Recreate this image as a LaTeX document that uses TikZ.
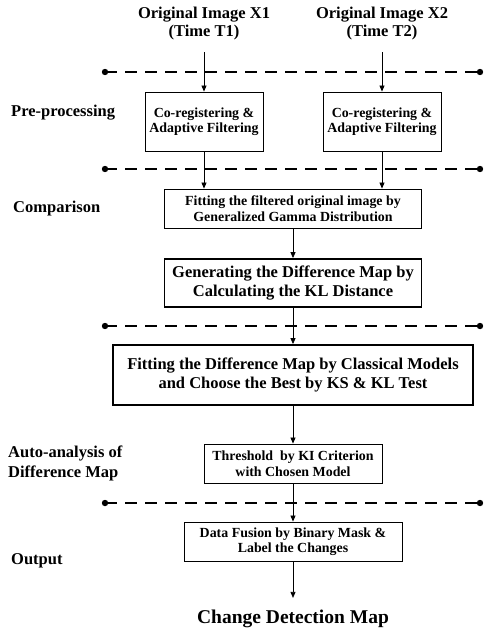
\documentclass[tikz,border=0pt]{standalone}
\usepackage{fontspec}
\setmainfont{Liberation Serif}
\usetikzlibrary{arrows.meta,positioning,calc}

\begin{document}
\begin{tikzpicture}[
  x=1pt, y=-1pt,
  box/.style={draw, line width=0.9pt, align=center, inner sep=0pt, font=\fontsize{13.9}{15.5}\selectfont\bfseries},
  bigbox/.style={draw, line width=1.8pt, align=center, inner sep=0pt, font=\fontsize{16.5}{19.5}\selectfont\bfseries},
  stage/.style={anchor=west, align=left, inner sep=0pt, font=\fontsize{16.5}{20}\selectfont\bfseries},
  title/.style={align=center, inner sep=0pt, font=\fontsize{16.5}{18}\selectfont\bfseries},
  arr/.style={-{Triangle[length=6pt,width=5pt]}, line width=0.8pt},
  sep/.style={dash pattern=on 12pt off 8pt, line width=1.3pt}
]
\useasboundingbox (0,0) rectangle (483,633);

% inputs
\node[title] (img1) at (204,24) {Original Image X1\\(Time T1)};
\node[title] (img2) at (382,24) {Original Image X2\\(Time T2)};

% processing chain
\node[box, minimum width=118pt, minimum height=59pt] (pre1) at (204,121.5) {Co-registering \&\\Adaptive Filtering};
\node[box, minimum width=118pt, minimum height=59pt] (pre2) at (382,121.5) {Co-registering \&\\Adaptive Filtering};
\node[box, minimum width=257pt, minimum height=39pt] (gamma) at (293,208.5) {Fitting the filtered original image by\\Generalized Gamma Distribution};
\node[bigbox, minimum width=257pt, minimum height=48pt] (kl) at (293,283) {Generating the Difference Map by\\Calculating the KL Distance};
\node[bigbox, minimum width=360pt, minimum height=60pt] (fit) at (293,375) {Fitting the Difference Map by Classical Models\\and Choose the Best by KS \& KL Test};
\node[box, minimum width=178pt, minimum height=39pt] (ki) at (293,463.5) {Threshold\ \ by KI Criterion\\with Chosen Model};
\node[box, minimum width=218pt, minimum height=39pt] (fusion) at (293,541.5) {Data Fusion by Binary Mask \&\\Label the Changes};
\node[title, font=\fontsize{19.5}{22}\selectfont\bfseries] (cdm) at (293,619) {Change Detection Map};

% stage labels
\node[stage] (lpre) at (11,113) {Pre-processing};
\node[stage] (lcmp) at (13,209) {Comparison};
\node[stage] (lauto) at (8,463) {Auto-analysis of\\Difference Map};
\node[stage] (lout) at (11,561) {Output};

% stage separators
\foreach \y [count=\i] in {72,169,326,503} {
  \coordinate (sepL\i) at (105,\y);
  \coordinate (sepR\i) at (480,\y);
  \draw[sep] (sepL\i) -- (sepR\i);
  \fill (sepL\i) circle (3.2pt) (sepR\i) circle (3.2pt);
}

% flow
\draw[arr, shorten <=11.5pt] (img1.south) -- (pre1.north);
\draw[arr, shorten <=11.5pt] (img2.south) -- (pre2.north);
\draw[arr] (pre1.south) -- (pre1.south |- gamma.north);
\draw[arr] (pre2.south) -- (pre2.south |- gamma.north);
\foreach \a/\b in {gamma/kl, kl/fit, fit/ki, ki/fusion}
  \draw[arr] (\a.south) -- (\b.north);
\draw[arr, shorten >=12pt] (fusion.south) -- (cdm.north);
\end{tikzpicture}
\end{document}
